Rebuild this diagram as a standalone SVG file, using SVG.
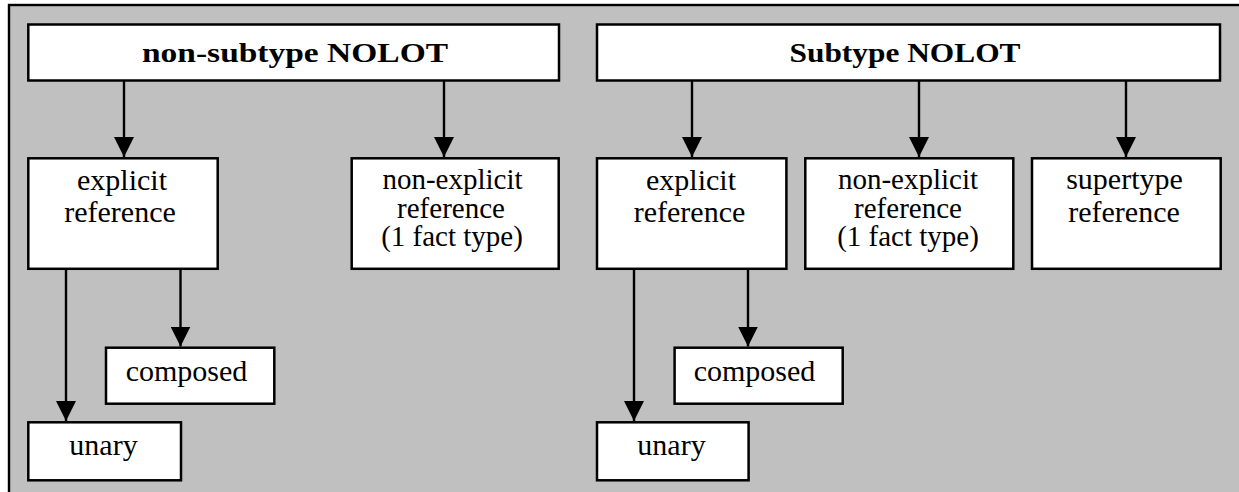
<svg xmlns="http://www.w3.org/2000/svg" width="1239" height="492" viewBox="0 0 1239 492">
  <defs>
    <marker id="arrow" markerUnits="userSpaceOnUse" markerWidth="20" markerHeight="20" refX="20" refY="10" orient="auto">
      <path d="M0,0 L20,10 L0,20 z" fill="#000"/>
    </marker>
    <style>
      .frame { fill: #c0c0c0; stroke: #000; stroke-width: 2.4; }
      .box { fill: #fff; stroke: #000; stroke-width: 2.5; }
      .lbl { font-family: "Liberation Serif", "Times New Roman", serif; font-size: 30px; fill: #000; text-anchor: middle; }
      .lbl3 { font-size: 29px; }
      .title { font-family: "Liberation Serif", "Times New Roman", serif; font-size: 28px; font-weight: bold; fill: #000; text-anchor: middle; }
      .edge { fill: none; stroke: #000; stroke-width: 2.4; marker-end: url(#arrow); }
    </style>
  </defs>

  <!-- background panel -->
  <rect class="frame" x="9" y="5" width="1300" height="600"/>

  <!-- connectors -->
  <g id="connectors">
    <line class="edge" x1="124" y1="81" x2="124" y2="157"/>
    <line class="edge" x1="444" y1="81" x2="444" y2="157"/>
    <line class="edge" x1="66" y1="269" x2="66" y2="421"/>
    <line class="edge" x1="180.5" y1="269" x2="180.5" y2="346.5"/>

    <line class="edge" x1="692" y1="81" x2="692" y2="157"/>
    <line class="edge" x1="919" y1="81" x2="919" y2="157"/>
    <line class="edge" x1="1126" y1="81" x2="1126" y2="157"/>
    <line class="edge" x1="634" y1="269" x2="634" y2="421"/>
    <line class="edge" x1="748" y1="269" x2="748" y2="346.5"/>
  </g>

  <!-- non-subtype side -->
  <g id="nonsubtype-nolot">
    <rect class="box" x="28.3" y="24.5" width="530.7" height="56"/>
    <text class="title" x="295" y="62" textLength="306" lengthAdjust="spacingAndGlyphs">non-subtype NOLOT</text>
  </g>
  <g id="ns-explicit">
    <rect class="box" x="28.3" y="158.3" width="189.4" height="110.5"/>
    <text class="lbl" x="122" y="190">explicit</text>
    <text class="lbl" x="120" y="222">reference</text>
  </g>
  <g id="ns-nonexplicit">
    <rect class="box" x="351.7" y="158.3" width="207" height="110.5"/>
    <text class="lbl lbl3" x="452.5" y="189">non-explicit</text>
    <text class="lbl lbl3" x="451" y="217.5">reference</text>
    <text class="lbl lbl3" x="452" y="246">(1 fact type)</text>
  </g>
  <g id="ns-composed">
    <rect class="box" x="106" y="347.7" width="168.3" height="56"/>
    <text class="lbl" x="186.5" y="381">composed</text>
  </g>
  <g id="ns-unary">
    <rect class="box" x="28.3" y="422.3" width="152.7" height="58"/>
    <text class="lbl" x="103.5" y="455">unary</text>
  </g>

  <!-- subtype side -->
  <g id="subtype-nolot">
    <rect class="box" x="597" y="24.5" width="623" height="56"/>
    <text class="title" x="905" y="62" textLength="231" lengthAdjust="spacingAndGlyphs">Subtype NOLOT</text>
  </g>
  <g id="st-explicit">
    <rect class="box" x="597" y="158.3" width="189.4" height="110.5"/>
    <text class="lbl" x="691" y="190">explicit</text>
    <text class="lbl" x="689.5" y="222">reference</text>
  </g>
  <g id="st-nonexplicit">
    <rect class="box" x="805.3" y="158.3" width="208" height="110.5"/>
    <text class="lbl lbl3" x="908" y="189">non-explicit</text>
    <text class="lbl lbl3" x="908" y="217.5">reference</text>
    <text class="lbl lbl3" x="908" y="246">(1 fact type)</text>
  </g>
  <g id="st-supertype">
    <rect class="box" x="1032" y="158.3" width="188.7" height="110.5"/>
    <text class="lbl" x="1124.5" y="189.3">supertype</text>
    <text class="lbl" x="1124" y="222">reference</text>
  </g>
  <g id="st-composed">
    <rect class="box" x="674.6" y="347.7" width="168.1" height="56"/>
    <text class="lbl" x="754.5" y="381">composed</text>
  </g>
  <g id="st-unary">
    <rect class="box" x="597" y="422.3" width="151.6" height="58"/>
    <text class="lbl" x="671.5" y="455">unary</text>
  </g>
</svg>
